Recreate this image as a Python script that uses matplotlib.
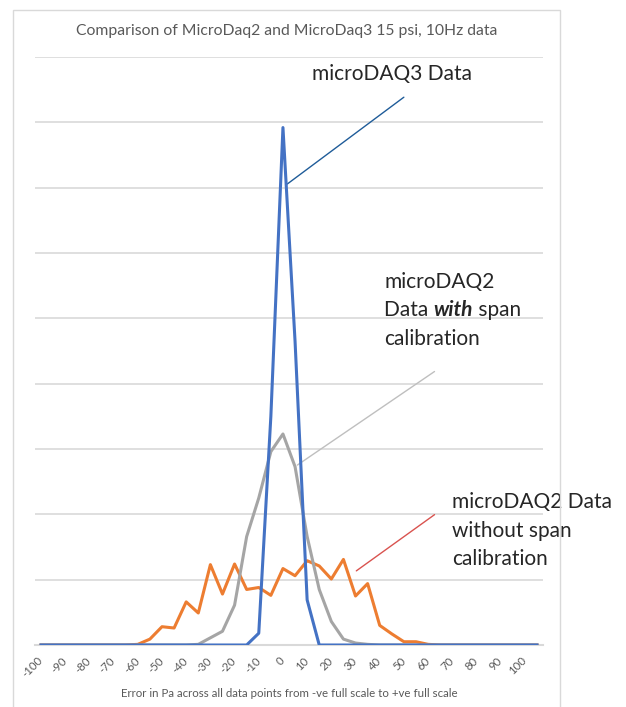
import numpy as np
import matplotlib.pyplot as plt
from matplotlib.patches import Rectangle

plt.rcParams['font.family'] = ['Lato', 'DejaVu Sans']

# error bins (Pa)
errors = [-100, -95, -90, -85, -80, -75, -70, -65, -60, -55, -50, -45, -40, -35,
          -30, -25, -20, -15, -10, -5, 0, 5, 10, 15, 20, 25, 30, 35, 40, 45,
          50, 55, 60, 65, 70, 75, 80, 85, 90, 95, 100, 105]

# counts
daq3 = [0, 0, 0, 0, 0, 0, 0, 0, 0, 0, 0, 0, 0, 0,
        0, 0, 0, 0, 18, 350, 792, 465, 69, 0, 0, 0, 0, 0, 0, 0,
        0, 0, 0, 0, 0, 0, 0, 0, 0, 0, 0, 0]
daq2_span = [0, 0, 0, 0, 0, 0, 0, 0, 0, 0, 0, 0, 0, 1,
             11, 21, 61, 166, 225, 296, 323, 273, 166, 85, 36, 9, 3, 1, 0, 0,
             0, 0, 0, 0, 0, 0, 0, 0, 0, 0, 0, 0]
daq2_nospan = [0, 0, 0, 0, 0, 0, 0, 0, 1, 9, 28, 26, 66, 49,
               123, 78, 124, 85, 88, 76, 117, 106, 129, 121, 101, 131, 75, 94, 30, 17,
               5, 5, 1, 0, 0, 0, 0, 0, 0, 0, 0, 0]

tick_vals = [-100, -90, -80, -70, -60, -50, -40, -30, -20, -10, 0,
             10, 20, 30, 40, 50, 60, 70, 80, 90, 100]
tick_text = ['-100', '-90', '-80', '-70', '-60', '-50', '-40', '-30', '-20', '-10', '0',
             '10', '20', '30', '40', '50', '60', '70', '80', '90', '100']

fig = plt.figure(figsize=(6.26, 7.07), dpi=100)
ax = fig.add_axes([35 / 626, 62 / 707, 508 / 626, 588 / 707])

# chart area border
fig.patches.append(Rectangle((13 / 626, -0.02), 547 / 626, 1.02 - 10 / 707,
                             transform=fig.transFigure, fill=False,
                             edgecolor='#D9D9D9', lw=1))

ax.plot(errors, daq2_nospan, color='#ED7D31', lw=2.2, zorder=3)
ax.plot(errors, daq2_span, color='#A5A5A5', lw=2.2, zorder=4)
ax.plot(errors, daq3, color='#4472C4', lw=2.2, zorder=5)

ax.set_xlim(-102.5, 107.5)
ax.set_ylim(0, 900)
ax.set_yticks(np.arange(0, 901, 100))
ax.set_yticklabels([])
ax.tick_params(axis='y', length=0)
ax.grid(axis='y', color='#D9D9D9', lw=1.2)
ax.set_axisbelow(True)
for s in ['top', 'right', 'left']:
    ax.spines[s].set_visible(False)
ax.spines['bottom'].set_color('#D9D9D9')
ax.spines['bottom'].set_linewidth(1.5)

ax.set_xticks(tick_vals)
ax.set_xticklabels(tick_text, rotation=45, ha='right', va='center',
                   rotation_mode='anchor', fontsize=8.2, color='#595959')
ax.tick_params(axis='x', length=0, pad=10)

ax.set_xlabel('Error in Pa across all data points from -ve full scale to +ve full scale',
              fontsize=8.3, color='#595959', labelpad=6)
fig.text(287 / 626, 1 - 31 / 707, 'Comparison of MicroDaq2 and MicroDaq3 15 psi, 10Hz data',
         ha='center', va='center', fontsize=11.3, color='#595959')

# leader lines
ax.annotate('', xy=(0.85, 703), xytext=(50.9, 841),
            arrowprops=dict(arrowstyle='-', color='#1F5C99', lw=1), annotation_clip=False)
ax.annotate('', xy=(5, 273), xytext=(63.6, 421),
            arrowprops=dict(arrowstyle='-', color='#BFBFBF', lw=1), annotation_clip=False)
ax.annotate('', xy=(29.4, 111), xytext=(63.6, 202),
            arrowprops=dict(arrowstyle='-', color='#D9534F', lw=1), annotation_clip=False)

fs = 15
lab = dict(fontsize=fs, color='#262626', va='baseline', ha='left', clip_on=False)
ax.text(11.9, 865, 'microDAQ3 Data', **lab)

ax.text(41.8, 547, 'microDAQ2', **lab)
t1 = ax.text(41.8, 503, 'Data ', **lab)
t2 = ax.annotate('with', xy=(1, 0), xycoords=t1, fontsize=fs, color='#262626',
                 va='bottom', ha='left', fontweight='bold', fontstyle='italic')
ax.annotate(' span', xy=(1, 0), xycoords=t2, fontsize=fs, color='#262626',
            va='bottom', ha='left')
ax.text(41.8, 459, 'calibration', **lab)

ax.text(69.8, 210, 'microDAQ2 Data', **lab)
ax.text(69.8, 166, 'without span', **lab)
ax.text(69.8, 122.5, 'calibration', **lab)

plt.savefig('out.png', dpi=100)
